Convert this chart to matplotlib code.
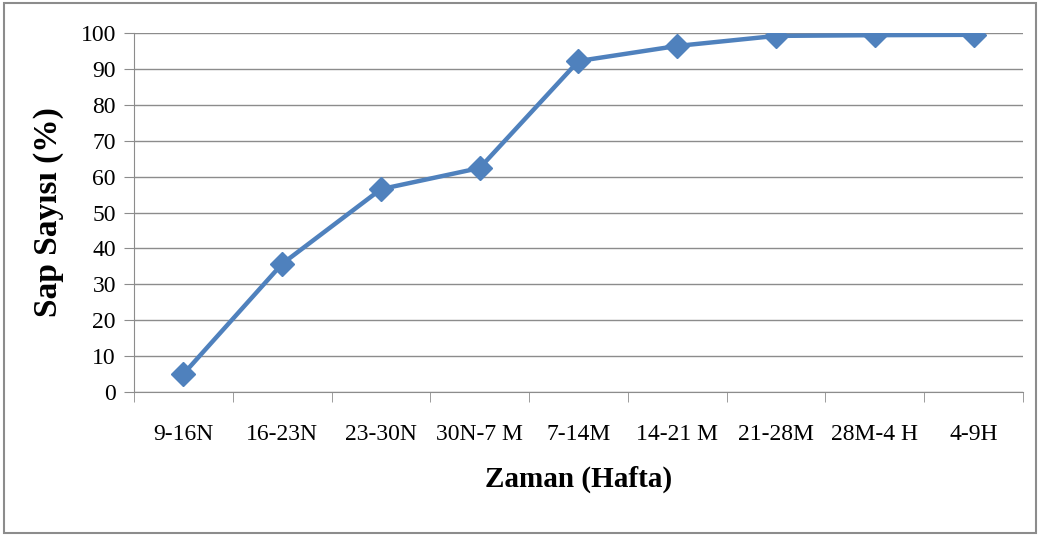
import matplotlib.pyplot as plt
import numpy as np
from matplotlib.patches import Rectangle

# data
weeks = ["9-16N", "16-23N", "23-30N", "30N-7 M", "7-14M", "14-21 M", "21-28M", "28M-4 H", "4-9H"]
sap_pct = [5.0, 35.7, 56.5, 62.4, 92.2, 96.4, 99.2, 99.4, 99.5]
y_ticks = [0, 10, 20, 30, 40, 50, 60, 70, 80, 90, 100]

plt.rcParams['font.family'] = ['Liberation Serif', 'DejaVu Serif']

fig = plt.figure(figsize=(10.41, 5.37), dpi=100)
ax = fig.add_axes([0.1287, 0.27, 0.854, 0.6685])

x = np.arange(len(weeks))
ax.plot(x, sap_pct, color='#4F81BD', linewidth=3.2, marker='D', markersize=12,
        markerfacecolor='#4F81BD', markeredgecolor='#4F81BD', zorder=3)

ax.set_xlim(-0.5, len(weeks) - 0.5)
ax.set_ylim(0, 100)
ax.set_yticks(y_ticks)
ax.set_xticks(x)
ax.set_xticklabels(weeks)
ax.set_xticks(np.arange(len(weeks) + 1) - 0.5, minor=True)

ax.grid(axis='y', color='#8c8c8c', linewidth=1)
ax.set_axisbelow(True)

for s in ['top', 'right']:
    ax.spines[s].set_visible(False)
ax.spines['left'].set_color('#8c8c8c')
ax.spines['bottom'].set_color('#8c8c8c')

ax.tick_params(axis='x', which='major', length=0, pad=23, labelsize=17)
ax.tick_params(axis='x', which='minor', length=7, color='#8c8c8c')
ax.tick_params(axis='y', length=7, color='#8c8c8c', labelsize=17, pad=6)

ax.set_ylabel("Sap Sayısı (%)", fontsize=24, fontweight='bold', labelpad=12)
ax.set_xlabel("Zaman (Hafta)", fontsize=21, fontweight='bold', labelpad=15)

# outer border like the original chart frame
fig.patches.append(Rectangle((0.004, 0.007), 0.991, 0.988, transform=fig.transFigure,
                             fill=False, edgecolor='#8c8c8c', linewidth=1.5))

fig.savefig("out.png", dpi=100)
